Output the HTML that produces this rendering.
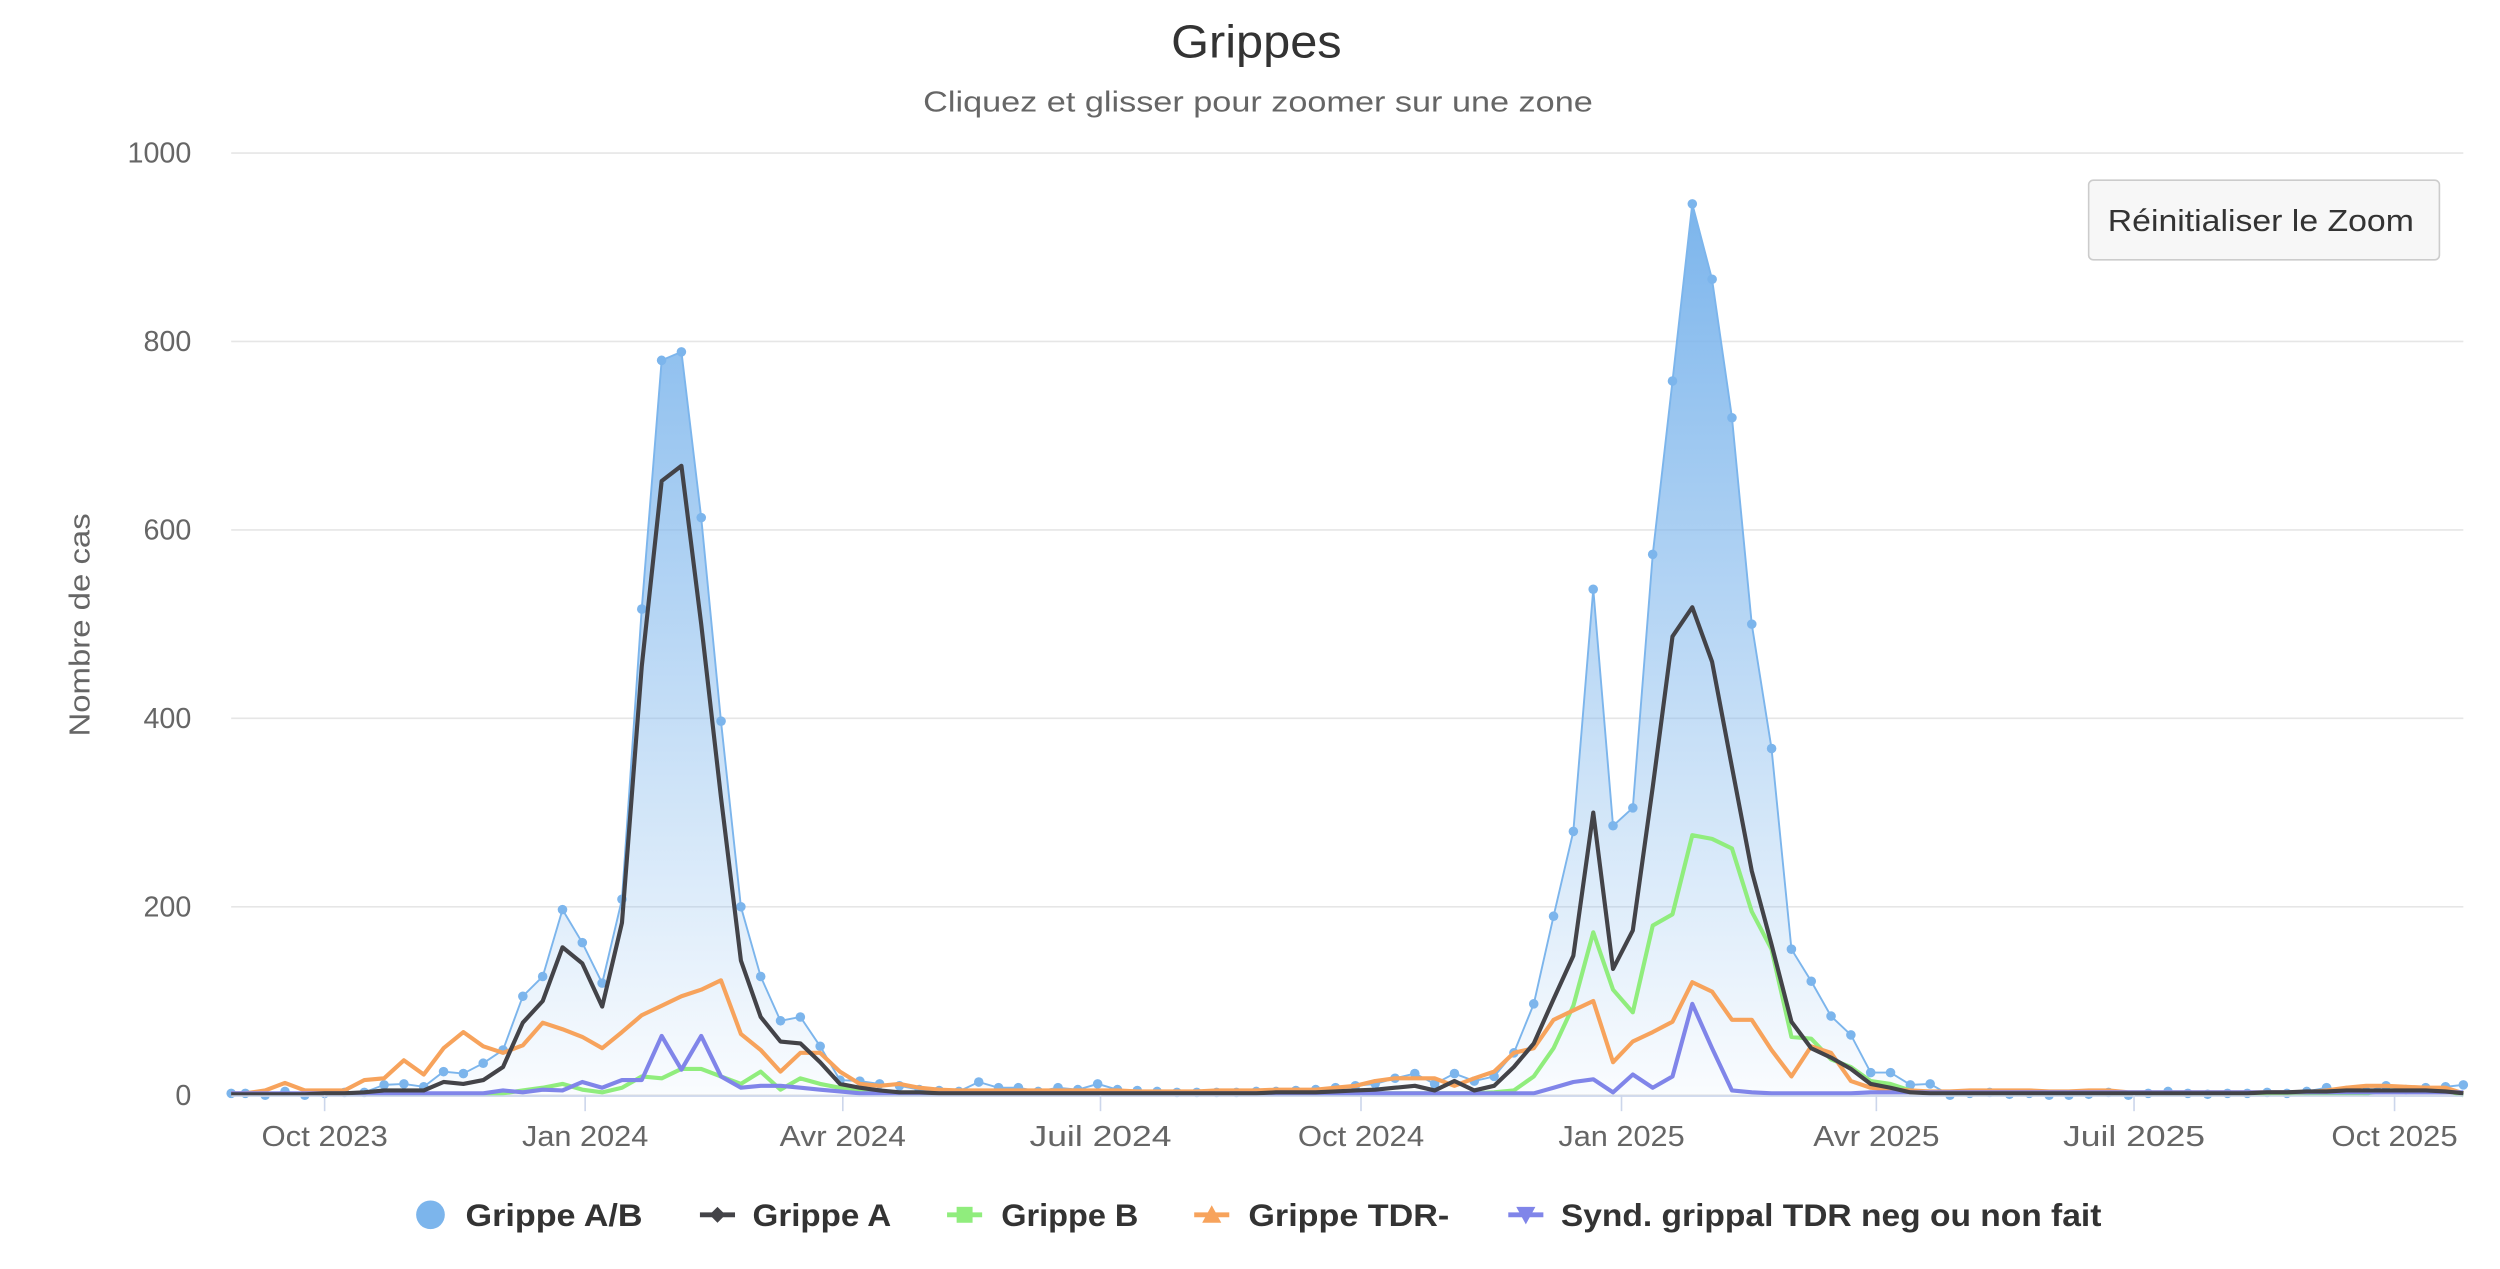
<!DOCTYPE html>
<html><head><meta charset="utf-8">
<style>
html,body{margin:0;padding:0;background:#fff;}
svg{display:block;font-family:"Liberation Sans","DejaVu Sans",sans-serif;}
</style></head>
<body>
<svg id="chart" width="2500" height="1269" viewBox="0 0 1568 796" preserveAspectRatio="none" xmlns="http://www.w3.org/2000/svg">
<defs>
<linearGradient id="areaGrad" x1="0" y1="0" x2="0" y2="1">
<stop offset="0" stop-color="#7cb5ec" stop-opacity="1"/>
<stop offset="1" stop-color="#7cb5ec" stop-opacity="0.04"/>
</linearGradient>
</defs>
<text x="788" y="36" text-anchor="middle" font-size="29" textLength="107" lengthAdjust="spacingAndGlyphs" fill="#333">Grippes</text>
<text x="789" y="70" text-anchor="middle" font-size="18" textLength="420" lengthAdjust="spacingAndGlyphs" fill="#666">Cliquez et glisser pour zoomer sur une zone</text>
<text transform="translate(56,392) rotate(-90)" text-anchor="middle" font-size="18" textLength="140" lengthAdjust="spacingAndGlyphs" fill="#666">Nombre de cas</text>
<g id="grid"></g>
<g id="series"></g>
<g id="xaxis"></g>
<g>
<rect x="1310" y="113" width="220" height="50" rx="3" fill="#f7f7f7" stroke="#cccccc" stroke-width="1"/>
<text x="1418" y="145" text-anchor="middle" font-size="19" textLength="192" lengthAdjust="spacingAndGlyphs" fill="#333">Réinitialiser le Zoom</text>
</g>
<g id="legend"></g>
</svg>
<script>
const startDate = Date.UTC(2023,7,27);
const yTicks = [0,200,400,600,800,1000];
const xTickLabels = ["Oct 2023","Jan 2024","Avr 2024","Juil 2024","Oct 2024","Jan 2025","Avr 2025","Juil 2025","Oct 2025"];
const xTickDates = ["2023-10-01","2024-01-01","2024-04-01","2024-07-01","2024-10-01","2025-01-01","2025-04-01","2025-07-01","2025-10-01"];
const grippeAB = [2,2,0,4,0,2,3,3,11,12, 9,25,23,34,48,105,126,197,162,119, 208,516,780,789,613,397,200,126,79,83, 52,16,15,12,10,6,5,4,14,8, 8,4,8,6,12,6,5,4,3,3, 3,3,4,4,5,6,8,10,12,18, 23,12,23,15,20,45,97,190,280,537, 286,305,574,758,946,866,719,500,368,155, 121,84,64,24,24,11,12,0,2,3, 1,2,0,0,1,3,0,2,4,2, 1,2,2,3,2,4,8,5,4,10,6,8,9,11];
const grippeA = [1,1,1,1,1,2,2,3,5,5, 5,14,12,16,30,77,100,157,140,94, 183,455,652,668,500,316,143,83,57,55, 35,12,8,5,3,3,2,2,2,2, 2,2,2,2,2,2,2,2,2,2, 2,2,2,3,3,3,4,5,6,8, 10,5,15,5,10,30,55,102,148,300, 134,175,327,487,518,460,348,238,160,78, 50,40,28,12,8,3,2,2,2,2, 2,2,2,2,2,2,2,2,2,2, 2,2,2,3,3,4,4,5,5,5,5,5,4,2];
const grippeB = [1,1,1,1,1,1,1,1,1,1, 1,1,1,1,2,5,8,12,6,3, 8,20,18,28,28,20,12,25,6,18, 12,8,5,3,2,2,2,2,2,2, 2,2,2,2,2,2,2,2,2,2, 2,2,2,2,2,2,2,2,2,2, 2,2,2,2,3,5,20,50,95,173, 112,88,180,192,276,272,262,195,155,62, 60,38,30,15,12,5,3,2,2,2, 2,2,2,2,2,2,2,2,2,2, 2,2,2,2,2,2,2,2,2,5,5,5,5,0];
const grippeTDR = [2,2,5,13,5,5,5,16,18,37, 22,50,67,52,45,53,77,70,62,50, 67,85,95,105,112,122,65,48,25,45, 45,25,12,10,12,8,6,5,5,5, 5,5,5,5,5,5,4,4,4,4, 5,5,5,6,6,6,8,10,15,18, 18,18,10,18,25,45,50,80,90,100, 35,57,67,78,120,110,80,80,48,20, 52,45,15,8,6,5,4,4,5,5, 5,5,4,4,5,5,3,3,3,3, 3,3,3,3,3,3,5,8,10,10,9,8,8,2];
const syndGrippal = [2,2,2,2,2,2,2,2,2,2, 2,2,2,2,5,3,6,5,14,8, 16,16,63,27,63,20,8,10,10,8, 6,4,2,2,2,2,2,2,2,2, 2,2,2,2,2,2,2,2,2,2, 2,2,2,2,2,2,2,2,2,2, 2,2,2,2,2,2,2,8,14,17, 3,22,8,20,97,50,5,3,2,2, 2,2,2,3,3,3,3,3,3,3, 3,3,3,3,3,3,3,3,3,3, 3,3,3,3,3,3,3,3,3,3,3,3,3,3];

const NS="http://www.w3.org/2000/svg";
const plotL=145, plotR=1545, y0=687, y1000=96;
const janRef=Date.UTC(2024,0,1), pxPerDay=1.776, janX=367;
function xDate(ms){return janX+(ms-janRef)/86400000*pxPerDay;}
function xIdx(i){return xDate(startDate+i*7*86400000);}
function yVal(v){return y0-(v/1000)*(y0-y1000);}
function mk(tag,attrs,parent){const e=document.createElementNS(NS,tag);for(const k in attrs)e.setAttribute(k,attrs[k]);parent.appendChild(e);return e;}

const grid=document.getElementById('grid');
yTicks.forEach(t=>{
  const l=mk('line',{x1:plotL,x2:plotR,y1:yVal(t),y2:yVal(t),stroke:'#e6e6e6','stroke-width':1},grid);
  
  
  const tx=mk('text',{x:120,y:yVal(t)+6,'text-anchor':'end','font-size':18,fill:'#666'},grid);
  tx.textContent=t;
  
  
});

const xa=document.getElementById('xaxis');
const axl=mk('line',{x1:plotL,x2:plotR,y1:y0+0.5,y2:y0+0.5,stroke:'#ccd6eb','stroke-width':1},xa);


xTickDates.forEach((d,i)=>{
  const p=d.split('-').map(Number);
  const x=xDate(Date.UTC(p[0],p[1]-1,p[2]));
  const tk=mk('line',{x1:x,x2:x,y1:y0,y2:y0+10,stroke:'#ccd6eb','stroke-width':1},xa);
  
  
  const tx=mk('text',{x:x,y:719,'text-anchor':'middle','font-size':18,fill:'#666'},xa);
  tx.textContent=xTickLabels[i];
  tx.setAttribute('textLength', xTickLabels[i].length*9.9);
  tx.setAttribute('lengthAdjust','spacingAndGlyphs');
  
  
});

const sg=document.getElementById('series');
function pts(arr){return arr.map((v,i)=>[Math.max(plotL,Math.min(plotR,xIdx(i))),yVal(v)]);}
const ab=pts(grippeAB);
let d='M'+ab[0][0]+','+y0+' '+ab.map(p=>'L'+p[0].toFixed(1)+','+p[1].toFixed(1)).join(' ')+' L'+ab[ab.length-1][0]+','+y0+' Z';
const area=mk('path',{d:d,fill:'url(#areaGrad)'},sg);


const abl=mk('polyline',{points:ab.map(p=>p[0].toFixed(1)+','+p[1].toFixed(1)).join(' '),fill:'none',stroke:'#7cb5ec','stroke-width':1.2},sg);


ab.forEach(p=>{
  const c=mk('circle',{cx:p[0],cy:p[1],r:3,fill:'#7cb5ec'},sg);
  
  
});
function line(arr,color,name){
  const pl=mk('polyline',{points:pts(arr).map(p=>p[0].toFixed(1)+','+p[1].toFixed(1)).join(' '),fill:'none',stroke:color,'stroke-width':2.6,'stroke-linejoin':'round'},sg);
  
  
}
line(grippeB,'#90ed7d','grippe-b-line');
line(grippeTDR,'#f7a35c','grippe-tdr-line');
line(syndGrippal,'#8085e9','synd-grippal-line');
line(grippeA,'#434348','grippe-a-line');

const lg=document.getElementById('legend');
const items=[
 {label:'Grippe A/B',color:'#7cb5ec',mx:270,tx:292,w:111,shape:'circle',name:'legend-grippe-ab'},
 {label:'Grippe A',color:'#434348',mx:450,tx:472,w:87,shape:'diamond',name:'legend-grippe-a'},
 {label:'Grippe B',color:'#90ed7d',mx:605,tx:628,w:86,shape:'square',name:'legend-grippe-b'},
 {label:'Grippe TDR-',color:'#f7a35c',mx:760,tx:783,w:126,shape:'tri',name:'legend-grippe-tdr'},
 {label:'Synd. grippal TDR neg ou non fait',color:'#8085e9',mx:957,tx:979,w:339,shape:'tridown',name:'legend-synd-grippal'}
];
items.forEach(it=>{
  const g=mk('g',{},lg);
  
  
  const cy=762;
  if(it.shape!=='circle') mk('line',{x1:it.mx-11,x2:it.mx+11,y1:cy,y2:cy,stroke:it.color,'stroke-width':3},g);
  if(it.shape==='circle') mk('circle',{cx:it.mx,cy:cy,r:9,fill:it.color},g);
  if(it.shape==='diamond') mk('path',{d:`M${it.mx},${cy-5} L${it.mx+5},${cy} L${it.mx},${cy+5} L${it.mx-5},${cy} Z`,fill:it.color},g);
  if(it.shape==='square') mk('rect',{x:it.mx-5,y:cy-5,width:10,height:10,fill:it.color},g);
  if(it.shape==='tri') mk('path',{d:`M${it.mx},${cy-6} L${it.mx+6},${cy+5} L${it.mx-6},${cy+5} Z`,fill:it.color},g);
  if(it.shape==='tridown') mk('path',{d:`M${it.mx-6},${cy-5} L${it.mx+6},${cy-5} L${it.mx},${cy+6} Z`,fill:it.color},g);
  const t=mk('text',{x:it.tx,y:cy+7,'font-size':20,'font-weight':'bold',fill:'#333',textLength:it.w,lengthAdjust:'spacingAndGlyphs'},g);
  t.textContent=it.label;
});
</script>
</body></html>
